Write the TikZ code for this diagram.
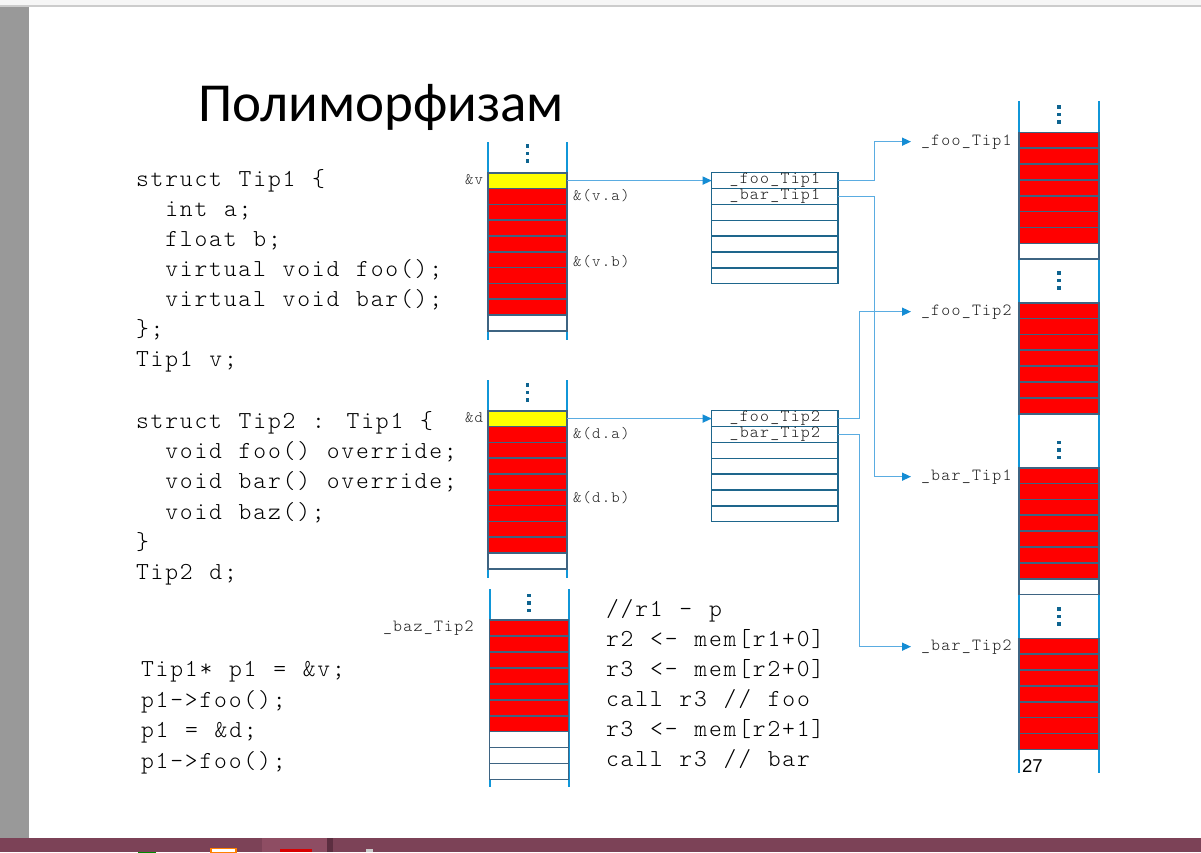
\documentclass[tikz,border=0pt]{standalone}
\usepackage{fontspec}
\newfontfamily\codefont{Latin Modern Mono Light}[LetterSpace=7.5,WordSpace=1.143]
\newfontfamily\titlefont{Carlito}
\newfontfamily\pagefont{Liberation Sans}
\usetikzlibrary{arrows.meta}

\definecolor{colblue}{RGB}{16,150,216}
\definecolor{cellline}{RGB}{62,100,130}
\definecolor{vtline}{RGB}{30,102,140}
\definecolor{linkblue}{RGB}{90,172,225}
\definecolor{tipblue}{RGB}{20,140,212}
\definecolor{dotblue}{RGB}{14,100,144}
\definecolor{memred}{RGB}{255,0,0}
\definecolor{memyellow}{RGB}{255,255,0}
\definecolor{labelgray}{RGB}{30,30,30}
\definecolor{sidegray}{RGB}{153,153,153}
\definecolor{topstrip}{RGB}{246,246,246}
\definecolor{topline}{RGB}{204,204,204}
\definecolor{taskbar}{RGB}{124,66,87}
\definecolor{taskbarhi}{RGB}{142,77,99}
\definecolor{taskbarsep}{RGB}{92,46,64}

% three small squares marking omitted memory
\newcommand\memdots[2]{%
  \foreach \dd in {-7.5,0,7.5}
    \fill[dotblue] ({#1-1.6},{#2+\dd-1.6}) rectangle ++(3.2,3.2);}
% two-column indentation of the source code
\newcommand\ind{\hspace*{29.3pt}}

\begin{document}
\begin{tikzpicture}[x=1pt,y=-1pt,
  every node/.style={inner sep=0pt,outer sep=0pt},
  codetext/.style={anchor=base west,font=\codefont\fontsize{24.4}{30}\selectfont,text=black},
  addrlbl/.style={font=\codefont\fontsize{16}{18}\selectfont,text=labelgray},
  fnlbl/.style={font=\codefont\fontsize{17}{19}\selectfont,text=labelgray},
  memcell/.style={minimum width=79pt,minimum height=15.8pt},
  redcell/.style={memcell,fill=memred},
  rcell/.style={minimum width=80pt,minimum height=15.86pt},
  vtcell/.style={draw=vtline,line width=1.5pt,fill=white,minimum width=126.3pt,minimum height=15.86pt,
    font=\codefont\fontsize{17}{19}\selectfont,text=labelgray},
  cellborder/.style={draw=cellline,line width=1.6pt},
  colline/.style={draw=colblue,line width=2pt},
  link/.style={draw=linkblue,line width=1.4pt,
    -{Triangle[length=9pt,width=8pt,color=tipblue,fill=tipblue]}}]

\useasboundingbox (0,0) rectangle (1201,852);

% window frame
\fill[white] (0,0) rectangle (1201,852);
\fill[topstrip] (0,0) rectangle (1201,5.5);
\draw[topline,line width=1.5pt] (0,6) -- (1201,6);
\fill[sidegray] (0,6.8) rectangle (29,838);
\fill[taskbar] (0,838) rectangle (1201,852);
\fill[taskbarhi] (262,838) rectangle (327,852);
\fill[taskbarsep] (327,838) rectangle (333,852);
\fill[green!55!black] (138,852) arc[start angle=180,end angle=0,radius=9];
\draw[orange,line width=1.5pt,fill=white] (211,853) rectangle (236,848.5);
\fill[red!85!black] (280,848.5) rectangle (312,852);
\fill[gray!40] (366,849) rectangle (373,852);

% title
\node[anchor=base west,font=\titlefont\fontsize{55}{60}\selectfont] (title) at (198,121) {Полиморфизам};

% source code
\foreach \t [count=\i] in {{struct Tip1 \{},{\ind int a;},{\ind float b;},
    {\ind virtual void foo();},{\ind virtual void bar();},{\};},{Tip1 v;}}
  \node[codetext] (codeA\i) at (136,{186.7+30*(\i-1)}) {\t};
\foreach \t [count=\i] in {{struct Tip2 : Tip1 \{},{\ind void foo() override;},
    {\ind void bar() override;},{\ind void baz();},{\}},{Tip2 d;}}
  \node[codetext] (codeB\i) at (136,{428.3+30.3*(\i-1)}) {\t};
\foreach \t [count=\i] in {{Tip1* p1 = \&v;},{p1->foo();},{p1 = \&d;},{p1->foo();}}
  \node[codetext] (codeC\i) at (141,{676.7+30.5*(\i-1)}) {\t};
\foreach \t [count=\i] in {{//r1 - p},{r2 <- mem[r1+0]},{r3 <- mem[r2+0]},
    {call r3 // foo},{r3 <- mem[r2+1]},{call r3 // bar}}
  \node[codetext] (asm\i) at (606,{616.7+30*(\i-1)}) {\t};

% object v
\draw[colline] (488,142) -- (488,340);
\draw[colline] (567,142) -- (567,340);
\memdots{527.5}{153.5}
\node[memcell,fill=memyellow] (vy) at (527.5,180.6) {};
\foreach \k in {1,...,8} \node[redcell] (v\k) at (527.5,{180.6+15.8*\k}) {};
\node[memcell,fill=white] (v9) at (527.5,{180.6+15.8*9}) {};
\foreach \c in {vy,v1,v2,v3,v4,v5,v6,v7,v8,v9}
  \draw[cellborder] (\c.north west) rectangle (\c.south east);
\node[addrlbl,anchor=base east] (lv) at (483,184.5) {\&v};
\node[addrlbl,anchor=base west] (lva) at (573,200.7) {\&(v.a)};
\node[addrlbl,anchor=base west] (lvb) at (573,266) {\&(v.b)};

% object d
\draw[colline] (488,380) -- (488,578);
\draw[colline] (567,380) -- (567,578);
\memdots{527.5}{392.5}
\node[memcell,fill=memyellow] (dy) at (527.5,418.6) {};
\foreach \k in {1,...,8} \node[redcell] (d\k) at (527.5,{418.6+15.8*\k}) {};
\node[memcell,fill=white] (d9) at (527.5,{418.6+15.8*9}) {};
\foreach \c in {dy,d1,d2,d3,d4,d5,d6,d7,d8,d9}
  \draw[cellborder] (\c.north west) rectangle (\c.south east);
\node[addrlbl,anchor=base east] (ld) at (483,422.3) {\&d};
\node[addrlbl,anchor=base west] (lda) at (573,438.3) {\&(d.a)};
\node[addrlbl,anchor=base west] (ldb) at (573,502.3) {\&(d.b)};

% code of _baz_Tip2
\draw[colline] (489.5,589) -- (489.5,787);
\draw[colline] (568.5,589) -- (568.5,787);
\memdots{529}{603}
\foreach \k in {0,...,6} \node[redcell,minimum height=15.95pt] (baz\k) at (529,{628+15.95*\k}) {};
\foreach \k in {7,8,9} \node[memcell,fill=white,minimum height=15.95pt] (baz\k) at (529,{628+15.95*\k}) {};
\foreach \k in {0,...,9}
  \draw[cellborder] (baz\k.north west) rectangle (baz\k.south east);
\node[fnlbl,anchor=base west] (lbaz) at (383,631.7) {\_baz\_Tip2};

% virtual tables
\node[vtcell] (vt1a) at (774.85,180.6) {\_foo\_Tip1};
\node[vtcell] (vt1b) at (774.85,{180.6+15.86}) {\_bar\_Tip1};
\foreach \k in {2,...,6} \node[vtcell] (vt1r\k) at (774.85,{180.6+15.86*\k}) {};
\node[vtcell] (vt2a) at (774.85,418.6) {\_foo\_Tip2};
\node[vtcell] (vt2b) at (774.85,{418.6+15.86}) {\_bar\_Tip2};
\foreach \k in {2,...,6} \node[vtcell] (vt2r\k) at (774.85,{418.6+15.86*\k}) {};

% code segment with the method bodies
\draw[colline] (1019,101) -- (1019,773);
\draw[colline] (1099,101) -- (1099,773);
\memdots{1059}{114.5}
\memdots{1059}{280.5}
\memdots{1059}{450}
\memdots{1059}{616.5}
\foreach \k in {0,...,6} {
  \node[rcell,fill=memred] (fa\k) at (1059,{140.23+15.86*\k}) {};
  \node[rcell,fill=memred] (fb\k) at (1059,{310.63+15.86*\k}) {};
  \node[rcell,fill=memred] (ba\k) at (1059,{475.63+15.86*\k}) {};
  \node[rcell,fill=memred] (bb\k) at (1059,{646.23+15.86*\k}) {};
}
\node[rcell,fill=white] (fa7) at (1059,{140.23+15.86*7}) {};
\node[rcell,fill=white] (ba7) at (1059,{475.63+15.86*7}) {};
\foreach \c in {fa,fb,ba,bb}
  \foreach \k in {0,...,6}
    \draw[cellborder] (\c\k.north west) rectangle (\c\k.south east);
\draw[cellborder] (fa7.north west) rectangle (fa7.south east);
\draw[cellborder] (ba7.north west) rectangle (ba7.south east);
\node[fnlbl,anchor=base west,inner xsep=10pt] (lfoo1) at (911,145) {\_foo\_Tip1};
\node[fnlbl,anchor=base west,inner xsep=10pt] (lfoo2) at (911,315) {\_foo\_Tip2};
\node[fnlbl,anchor=base west,inner xsep=10pt] (lbar1) at (911,480) {\_bar\_Tip1};
\node[fnlbl,anchor=base west,inner xsep=10pt] (lbar2) at (911,650) {\_bar\_Tip2};
\node[anchor=base west,font=\pagefont\fontsize{18.6}{20}\selectfont] (pnum) at (1022,772) {27};

% pointers
\coordinate (busA) at (874.3,0);
\coordinate (busB) at (859.3,0);
\draw[link] (vy.east) -- (vt1a.west);
\draw[link] (dy.east) -- (vt2a.west);
\draw[link] (vt1a.east) -- (vt1a.east -| busA) |- (lfoo1.west);
\draw[link] (vt1b.east) -- (vt1b.east -| busA) |- (lbar1.west);
\draw[link] (vt2a.east) -- (vt2a.east -| busB) |- (lfoo2.west);
\draw[link] (vt2b.east) -- (vt2b.east -| busB) |- (lbar2.west);
\end{tikzpicture}
\end{document}
